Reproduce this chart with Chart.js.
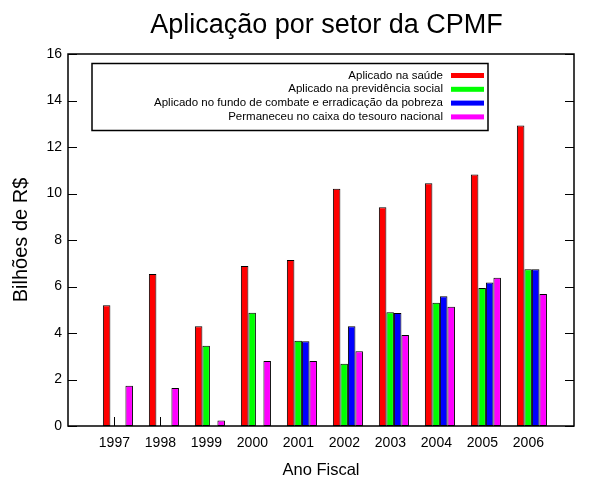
<!DOCTYPE html>
<html>
<head>
<meta charset="utf-8">
<script src="https://cdn.jsdelivr.net/npm/chart.js@4/dist/chart.umd.min.js"></script>
<style>
  body { margin: 0; background: #fff; }
  #wrap { width: 600px; height: 480px; }
</style>
</head>
<body>
<div id="wrap"><canvas id="chart1"></canvas></div>
<script>
// anos fiscais e valores (bilhoes de R$)
const anos = ["1997", "1998", "1999", "2000", "2001", "2002", "2003", "2004", "2005", "2006"];
const saude = [5.19, 6.54, 4.29, 6.88, 7.14, 10.2, 9.41, 10.44, 10.82, 12.92];
const previdencia = [0, 0, 3.45, 4.87, 3.67, 2.68, 4.89, 5.3, 5.94, 6.74];
const pobreza = [0, 0, 0, 0, 3.64, 4.29, 4.86, 5.58, 6.17, 6.74];
const tesouro = [1.73, 1.63, 0.24, 2.8, 2.8, 3.21, 3.91, 5.13, 6.38, 5.68];
const yTicks = [0, 2, 4, 6, 8, 10, 12, 14, 16];

const FONT = "'Liberation Sans', Arial, sans-serif";
const tickShift = -3.5;

const toPoints = (arr) => arr.map((v, i) => ({ x: i, y: v }));

const serie = (label, values, color) => ({
  label: label,
  data: toPoints(values),
  backgroundColor: color,
  borderColor: "#000",
  borderWidth: 1,
  borderSkipped: false,
});

// moldura, marcas internas, titulo e legenda no estilo gnuplot
const gnuplotStyle = {
  id: "gnuplotStyle",
  beforeDatasetsDraw(chart) {
    const { ctx, chartArea, scales } = chart;
    ctx.save();
    ctx.strokeStyle = "#000";
    ctx.lineWidth = 1;
    ctx.beginPath();
    yTicks.forEach((t) => {
      const y = Math.round(scales.y.getPixelForValue(t)) + 0.5;
      ctx.moveTo(chartArea.left, y);
      ctx.lineTo(chartArea.left + 9, y);
      ctx.moveTo(chartArea.right, y);
      ctx.lineTo(chartArea.right - 9, y);
    });
    anos.forEach((a, i) => {
      const x = Math.round(scales.x.getPixelForValue(i) + tickShift) + 0.5;
      ctx.moveTo(x, chartArea.bottom);
      ctx.lineTo(x, chartArea.bottom - 9);
    });
    ctx.stroke();
    ctx.restore();
  },
  afterDraw(chart) {
    const { ctx, chartArea } = chart;
    ctx.save();
    ctx.strokeStyle = "#000";
    ctx.lineWidth = 1.5;
    ctx.strokeRect(chartArea.left, chartArea.top, chartArea.right - chartArea.left, chartArea.bottom - chartArea.top);

    // titulo
    ctx.fillStyle = "#000";
    ctx.font = "27px " + FONT;
    ctx.textAlign = "center";
    ctx.textBaseline = "middle";
    ctx.fillText("Aplicação por setor da CPMF", (chartArea.left + chartArea.right) / 2 + 5.5, 26);

    // legenda
    const bx = chartArea.left + 24;
    const by = chartArea.top + 9.5;
    ctx.fillStyle = "#fff";
    ctx.fillRect(bx, by, 396, 67);
    ctx.lineWidth = 1.5;
    ctx.strokeRect(bx, by, 396, 67);
    ctx.font = "11.5px " + FONT;
    ctx.textAlign = "right";
    chart.data.datasets.forEach((ds, i) => {
      const y = by + 12 + i * 13.8;
      ctx.fillStyle = "#000";
      ctx.fillText(ds.label, bx + 351, y);
      ctx.fillStyle = ds.backgroundColor;
      ctx.fillRect(bx + 359, y - 2.5, 33, 5);
    });
    ctx.restore();
  },
};

new Chart(document.getElementById("chart1"), {
  type: "bar",
  data: {
    datasets: [
      serie("Aplicado na saúde", saude, "#ff0000"),
      serie("Aplicado na previdência social", previdencia, "#00ff00"),
      serie("Aplicado no fundo de combate e erradicação da pobreza", pobreza, "#0000ff"),
      serie("Permaneceu no caixa do tesouro nacional", tesouro, "#ff00ff"),
    ],
  },
  options: {
    responsive: true,
    maintainAspectRatio: false,
    animation: false,
    categoryPercentage: 0.654,
    barPercentage: 1,
    layout: { padding: { top: 54, right: 26, left: 0, bottom: 0 } },
    plugins: {
      legend: { display: false },
      tooltip: { enabled: false },
    },
    scales: {
      x: {
        type: "linear",
        min: -1.085,
        max: 9.915,
        offset: false,
        grid: { display: false, drawTicks: false },
        border: { display: false },
        afterBuildTicks: (scale) => {
          scale.ticks = anos.map((a, i) => ({ value: i }));
        },
        afterFit: (scale) => { scale.height = 54; },
        ticks: {
          color: "#000",
          font: { family: FONT, size: 14 },
          padding: 9,
          labelOffset: tickShift,
          maxRotation: 0,
          autoSkip: false,
          callback: (v) => anos[v] ?? "",
        },
        title: {
          display: true,
          text: "Ano Fiscal",
          color: "#000",
          font: { family: FONT, size: 16.5 },
          padding: { top: 0, bottom: 0 },
        },
      },
      y: {
        min: 0,
        max: 16,
        grid: { display: false, drawTicks: false },
        border: { display: false },
        afterFit: (scale) => { scale.width = 68; },
        ticks: {
          stepSize: 2,
          color: "#000",
          font: { family: FONT, size: 14 },
          padding: 6,
        },
        title: {
          display: true,
          text: "Bilhões de R$",
          color: "#000",
          font: { family: FONT, size: 20 },
          padding: { top: 9, bottom: 0 },
        },
      },
    },
  },
  plugins: [gnuplotStyle],
});
</script>
</body>
</html>
